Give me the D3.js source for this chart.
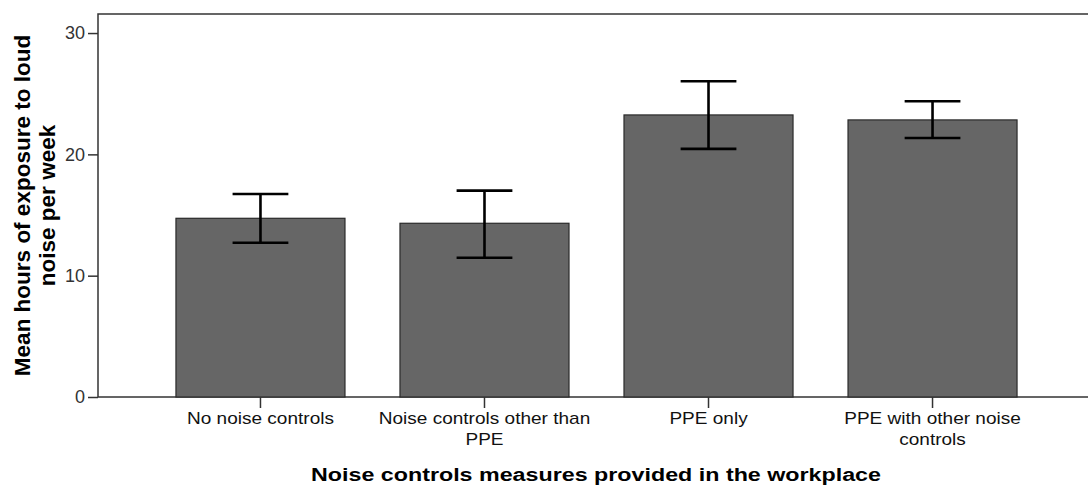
<!DOCTYPE html>
<html>
<head>
<meta charset="utf-8">
<script src="https://cdn.jsdelivr.net/npm/d3@7"></script>
<style>
  html, body { margin: 0; padding: 0; background: #fff; }
  text { font-family: "Liberation Sans", Arial, sans-serif; }
</style>
</head>
<body>
<div id="chart"></div>
<script>
// Data
const categories = ["No noise controls", "Noise controls other than PPE", "PPE only", "PPE with other noise controls"];
const categoryLines = [["No noise controls"], ["Noise controls other than", "PPE"], ["PPE only"], ["PPE with other noise", "controls"]];
const means = [14.73, 14.32, 23.25, 22.84];
const upper = [16.73, 17.01, 26.03, 24.38];
const lower = [12.72, 11.48, 20.45, 21.35];
const yTicks = [0, 10, 20, 30];

const width = 1088, height = 486;
const plotLeft = 98, plotRight = 1095, plotTop = 14, plotBottom = 397;

const svg = d3.select('#chart').append('svg')
  .attr('width', width)
  .attr('height', height);

const x = d3.scaleBand()
  .domain(categories)
  .range([plotLeft, plotRight])
  .paddingInner(0.2455)
  .paddingOuter(0.348);

const y = d3.scaleLinear()
  .domain([0, 31.57])
  .range([plotBottom, plotTop]);

// frame
svg.append('rect')
  .attr('x', plotLeft).attr('y', plotTop)
  .attr('width', plotRight - plotLeft).attr('height', plotBottom - plotTop)
  .attr('fill', 'none')
  .attr('stroke', '#333')
  .attr('stroke-width', 1.5);

// bars
svg.append('g')
  .selectAll('rect')
  .data(categories)
  .join('rect')
  .attr('x', d => x(d))
  .attr('y', (d, i) => y(means[i]))
  .attr('width', x.bandwidth())
  .attr('height', (d, i) => y(0) - y(means[i]))
  .attr('fill', '#666666')
  .attr('stroke', '#2a2a2a')
  .attr('stroke-width', 1.2);

// error bars
const cap = x.bandwidth() * 0.33;
const eb = svg.append('g')
  .attr('stroke', '#000')
  .attr('stroke-width', 2.6)
  .attr('fill', 'none');
categories.forEach((c, i) => {
  const cx = x(c) + x.bandwidth() / 2;
  eb.append('line').attr('x1', cx).attr('x2', cx).attr('y1', y(upper[i])).attr('y2', y(lower[i]));
  eb.append('line').attr('x1', cx - cap / 2).attr('x2', cx + cap / 2).attr('y1', y(upper[i])).attr('y2', y(upper[i]));
  eb.append('line').attr('x1', cx - cap / 2).attr('x2', cx + cap / 2).attr('y1', y(lower[i])).attr('y2', y(lower[i]));
});

// y axis
const yAxis = svg.append('g')
  .attr('transform', `translate(${plotLeft},0)`)
  .call(d3.axisLeft(y).tickValues(yTicks).tickSize(10).tickPadding(3).tickFormat(d3.format('d')));
yAxis.select('.domain').remove();
yAxis.selectAll('line').attr('stroke', '#333').attr('stroke-width', 1.5);
yAxis.selectAll('text')
  .attr('font-size', 18)
  .attr('fill', '#333')
  .attr('font-family', '"Liberation Sans", Arial, sans-serif');

// x axis
const xAxis = svg.append('g')
  .attr('transform', `translate(0,${plotBottom})`)
  .call(d3.axisBottom(x).tickSize(11).tickFormat(''));
xAxis.select('.domain').remove();
xAxis.selectAll('line').attr('stroke', '#333').attr('stroke-width', 1.5);

// category labels (two lines where they wrap)
categories.forEach((c, i) => {
  const g = svg.append('g')
    .attr('transform', `translate(${x(c) + x.bandwidth() / 2},424) scale(1.12,1)`);
  categoryLines[i].forEach((line, j) => {
    g.append('text')
      .attr('y', j * 21)
      .attr('text-anchor', 'middle')
      .attr('font-size', 17)
      .attr('fill', '#111')
      .text(line);
  });
});

// x title
svg.append('text')
  .attr('x', (plotLeft + plotRight) / 2 - 0.5)
  .attr('y', 481)
  .attr('text-anchor', 'middle')
  .attr('font-size', 18)
  .attr('font-weight', 'bold')
  .attr('textLength', 570)
  .attr('lengthAdjust', 'spacingAndGlyphs')
  .text('Noise controls measures provided in the workplace');

// y title
const yt = svg.append('text')
  .attr('transform', `translate(30,${(plotTop + plotBottom) / 2}) rotate(-90)`)
  .attr('text-anchor', 'middle')
  .attr('font-size', 22.5)
  .attr('font-weight', 'bold');
yt.append('tspan').attr('x', 0).attr('y', 0).text('Mean hours of exposure to loud');
yt.append('tspan').attr('x', 0).attr('y', 25).text('noise per week');
</script>
</body>
</html>
